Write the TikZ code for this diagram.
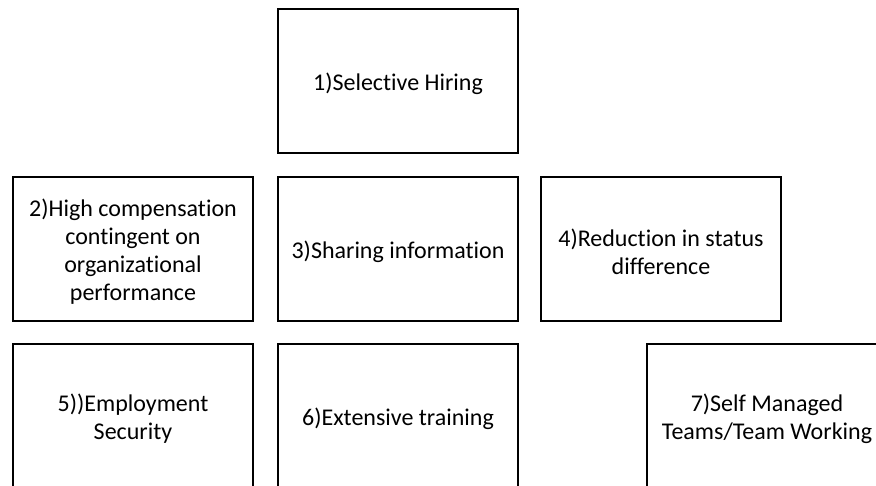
\documentclass[tikz,border=0pt]{standalone}
\usepackage{fontspec}
\setmainfont[Ligatures=NoCommon]{Carlito}
\begin{document}
\begin{tikzpicture}[x=1pt,y=-1pt,
  practice/.style={draw=black, line width=1.6pt, fill=white, rectangle,
    minimum width=240pt, minimum height=144pt, inner sep=0pt},
  caption/.style={inner sep=0pt, align=center,
    font=\fontsize{24}{28}\selectfont}]
\useasboundingbox (0,0) rectangle (876,485);
\clip (0,0) rectangle (876,485);
% the seven boxes
\node[practice] (hiring) at (398,81)  {};
\node[practice] (comp)   at (133,249) {};
\node[practice] (info)   at (398,249) {};
\node[practice] (status) at (661,249) {};
\node[practice] (secur)  at (133,416) {};
\node[practice] (train)  at (398,416) {};
\node[practice] (teams)  at (767,416) {};
% their texts, set a little below the centre
\node[caption] (thiring) at ([yshift=-2.5pt]hiring.center) {1)Selective Hiring};
\node[caption] (tcomp)   at ([yshift=-2.5pt]comp.center)   {2)High compensation\\contingent on\\organizational\\performance};
\node[caption] (tinfo)   at ([yshift=-2.5pt]info.center)   {3)Sharing information};
\node[caption] (tstatus) at ([yshift=-2.5pt]status.center) {4)Reduction in status\\difference};
\node[caption] (tsecur)  at ([yshift=-2.5pt]secur.center)  {5))Employment\\Security};
\node[caption] (ttrain)  at ([yshift=-2.5pt]train.center)  {6)Extensive training};
\node[caption] (tteams)  at ([yshift=-2.5pt]teams.center)  {7)Self Managed\\Teams/Team Working};
\end{tikzpicture}
\end{document}
